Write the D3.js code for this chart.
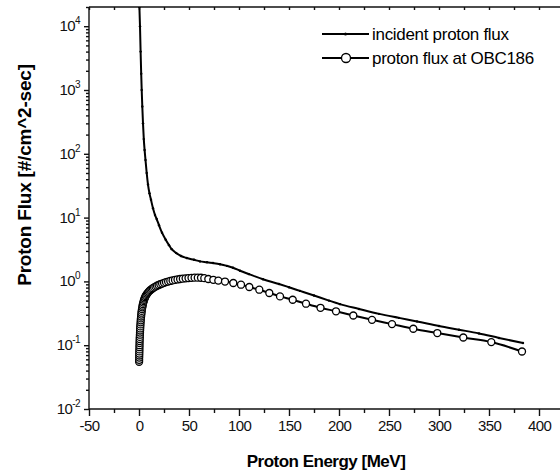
<!DOCTYPE html>
<html>
<head>
<meta charset="utf-8">
<script src="https://cdn.jsdelivr.net/npm/d3@7"></script>
<style>
  html, body { margin: 0; padding: 0; background: #fff; }
  svg { display: block; font-family: "Liberation Sans", Arial, sans-serif; }
</style>
</head>
<body>
<div id="chart"></div>
<script>
// incident proton flux (energy MeV, flux)
const incidentEnergy = [0.4, 1.0, 1.6, 2.2, 2.7, 3.3, 4.0, 4.8, 5.6, 6.5, 7.7, 9.0, 10.5, 12, 14, 16, 17.7, 20, 23, 26.7, 30, 32.7, 37, 42, 47.7, 55, 61, 68, 74, 81, 88, 94, 101, 110, 124, 140, 150, 161, 175, 190, 201, 220, 240, 260, 278, 300, 320, 340, 360, 384];
const incidentFlux = [20000, 10000, 4000, 1800, 1000, 550, 300, 170, 115, 80, 50, 33, 24, 19, 14, 11, 9.5, 7.6, 5.8, 4.5, 3.7, 3.2, 2.8, 2.5, 2.33, 2.18, 2.06, 2.0, 1.94, 1.86, 1.75, 1.64, 1.47, 1.3, 1.08, 0.91, 0.81, 0.71, 0.6, 0.5, 0.44, 0.37, 0.31, 0.268, 0.236, 0.2, 0.175, 0.153, 0.13, 0.108];

// proton flux at OBC186
const obcEnergy = [0.10, 0.15, 0.20, 0.25, 0.30, 0.35, 0.40, 0.45, 0.50, 0.55, 0.60, 0.70, 0.80, 0.90, 1.00, 1.10, 1.20, 1.30, 1.45, 1.60, 1.75, 1.90, 2.10, 2.30, 2.50, 2.70, 3.00, 3.30, 3.60, 3.90, 4.30, 4.70, 5.10, 5.60, 6.10, 6.70, 7.30, 8.00, 8.80, 9.60, 10.5, 11.5, 12.6, 13.8, 15.1, 16.5, 18.0, 19.6, 21.3, 23.1, 25.0, 27.0, 29.1, 31.3, 33.6, 36.0, 38.5, 41.1, 43.8, 46.6, 49.5, 52.5, 55.6, 58.8, 62.0, 65.3, 69.3, 74.3, 79.3, 86, 94.3, 102, 110.3, 120.3, 130.3, 141, 153.7, 167, 181.5, 197, 214.3, 233, 253, 274.3, 298.3, 324.3, 352.3, 383];
const obcFlux = [0.055, 0.059, 0.064, 0.069, 0.074, 0.080, 0.086, 0.093, 0.100, 0.108, 0.116, 0.125, 0.135, 0.146, 0.158, 0.170, 0.183, 0.197, 0.212, 0.228, 0.245, 0.263, 0.282, 0.302, 0.323, 0.345, 0.368, 0.392, 0.416, 0.44, 0.465, 0.49, 0.515, 0.54, 0.565, 0.59, 0.614, 0.638, 0.662, 0.686, 0.71, 0.734, 0.758, 0.782, 0.806, 0.83, 0.854, 0.878, 0.902, 0.926, 0.95, 0.973, 0.995, 1.016, 1.036, 1.055, 1.073, 1.09, 1.105, 1.118, 1.129, 1.138, 1.144, 1.146, 1.14, 1.125, 1.09, 1.06, 1.03, 0.995, 0.944, 0.887, 0.817, 0.741, 0.658, 0.582, 0.516, 0.447, 0.386, 0.34, 0.292, 0.25, 0.214, 0.181, 0.155, 0.132, 0.112, 0.0796];

const xTickValues = [-50, 0, 50, 100, 150, 200, 250, 300, 350, 400];
const yTickExponents = [-2, -1, 0, 1, 2, 3, 4];
const legendLabels = ["incident proton flux", "proton flux at OBC186"];

const width = 560, height = 475;
const plot = { left: 89, right: 559, top: 7, bottom: 409 };

const svg = d3.select("#chart")
    .append("svg")
    .attr("width", width)
    .attr("height", height);

const x = d3.scaleLinear().domain([-50, 420]).range([plot.left, plot.right]);
const y = d3.scaleLog().domain([0.01, 20000]).range([plot.bottom, plot.top]);

svg.append("defs").append("clipPath")
    .attr("id", "plot-clip")
    .append("rect")
    .attr("x", plot.left)
    .attr("y", plot.top)
    .attr("width", plot.right - plot.left)
    .attr("height", plot.bottom - plot.top);

const axisColor = "#111";

// bottom axis: majors every 50, minors every 25
const xMinor = d3.range(-50, 420, 25).filter(v => v % 50 !== 0);
const bottomAxis = svg.append("g").attr("transform", `translate(0,${plot.bottom})`);
bottomAxis.append("g")
    .call(d3.axisBottom(x).tickValues(xMinor).tickSize(4).tickFormat(""))
    .call(g => g.select(".domain").remove());
bottomAxis.append("g")
    .call(d3.axisBottom(x).tickValues(xTickValues).tickSize(7).tickPadding(4).tickSizeOuter(0)
        .tickFormat(d => String(d)))
    .call(g => g.select(".domain").attr("d", `M${plot.left},0H${plot.right + 1}`))
    .selectAll("text")
    .attr("fill", axisColor)
    .style("font-size", "15px")
    .style("letter-spacing", "-0.6px");
bottomAxis.selectAll("line, path").attr("stroke", axisColor).attr("stroke-width", 1.4);

// top axis: inward ticks every 25
const topAxis = svg.append("g").attr("transform", `translate(0,${plot.top})`);
topAxis.append("g")
    .call(d3.axisTop(x).tickValues(d3.range(-50, 420, 25)).tickSize(-3).tickFormat("").tickSizeOuter(0))
    .call(g => g.select(".domain").attr("d", `M${plot.left},0H${width}`));
topAxis.selectAll("line, path").attr("stroke", axisColor).attr("stroke-width", 1.4);

// left axis: log decades with minor ticks
const yMinor = [];
yTickExponents.forEach(e => {
    for (let k = 2; k <= 9; k++) {
        const v = k * Math.pow(10, e);
        if (v <= 20000) yMinor.push(v);
    }
});
const leftAxis = svg.append("g").attr("transform", `translate(${plot.left},0)`);
leftAxis.append("g")
    .call(d3.axisLeft(y).tickValues(yMinor).tickSize(3).tickFormat(""))
    .call(g => g.select(".domain").remove());
leftAxis.append("g")
    .call(d3.axisLeft(y).tickValues(yTickExponents.map(e => Math.pow(10, e))).tickSize(5).tickFormat("").tickSizeOuter(0))
    .call(g => g.select(".domain").attr("d", `M0,${plot.top}V${plot.bottom + 0.7}`));
leftAxis.selectAll("line, path").attr("stroke", axisColor).attr("stroke-width", 1.4);

const yLabels = leftAxis.append("g");
yTickExponents.forEach(e => {
    const t = yLabels.append("text")
        .attr("x", -9)
        .attr("y", y(Math.pow(10, e)) + 5)
        .attr("text-anchor", "end")
        .attr("fill", axisColor)
        .style("font-size", "15px")
        .style("letter-spacing", "-0.6px");
    t.append("tspan").text("10");
    t.append("tspan")
        .attr("dy", -7)
        .style("font-size", "10px")
        .text(e);
});

// axis titles
svg.append("text")
    .attr("x", 326)
    .attr("y", 467)
    .attr("text-anchor", "middle")
    .style("font-size", "17px")
    .style("font-weight", "bold")
    .style("letter-spacing", "-0.5px")
    .text("Proton Energy [MeV]");

svg.append("text")
    .attr("transform", "translate(31,175) rotate(-90)")
    .attr("text-anchor", "middle")
    .style("font-size", "19px")
    .style("font-weight", "bold")
    .style("letter-spacing", "-0.2px")
    .text("Proton Flux [#/cm^2-sec]");

// series
const plotArea = svg.append("g").attr("clip-path", "url(#plot-clip)");

const incident = incidentEnergy.map((e, i) => ({ e, f: incidentFlux[i] }));
const obc = obcEnergy.map((e, i) => ({ e, f: obcFlux[i] }));

const line = d3.line()
    .x(d => x(d.e))
    .y(d => y(d.f))
    .curve(d3.curveMonotoneX);

plotArea.append("path")
    .datum(incident)
    .attr("d", line)
    .attr("fill", "none")
    .attr("stroke", "#000")
    .attr("stroke-width", 2);

plotArea.selectAll(".inc-dot")
    .data(incident)
    .enter()
    .append("circle")
    .attr("class", "inc-dot")
    .attr("cx", d => x(d.e))
    .attr("cy", d => y(d.f))
    .attr("r", 1.2)
    .attr("fill", "#000");

plotArea.append("path")
    .datum(obc)
    .attr("d", line)
    .attr("fill", "none")
    .attr("stroke", "#000")
    .attr("stroke-width", 2);

plotArea.selectAll(".obc-dot")
    .data(obc)
    .enter()
    .append("circle")
    .attr("class", "obc-dot")
    .attr("cx", d => x(d.e))
    .attr("cy", d => y(d.f))
    .attr("r", 3.5)
    .attr("fill", "#fff")
    .attr("stroke", "#000")
    .attr("stroke-width", 1.3);

// legend
const legend = svg.append("g");
const legendRows = [34, 58];
legendRows.forEach((ly, i) => {
    legend.append("line")
        .attr("x1", 322).attr("x2", 369)
        .attr("y1", ly).attr("y2", ly)
        .attr("stroke", "#000")
        .attr("stroke-width", 2);
    if (i === 0) {
        legend.append("circle")
            .attr("cx", 345.5).attr("cy", ly).attr("r", 1.5)
            .attr("fill", "#000");
    } else {
        legend.append("circle")
            .attr("cx", 346).attr("cy", ly).attr("r", 4.5)
            .attr("fill", "#fff")
            .attr("stroke", "#000")
            .attr("stroke-width", 1.3);
    }
    legend.append("text")
        .attr("x", 372)
        .attr("y", ly + 6)
        .style("font-size", "17px")
        .style("letter-spacing", "-0.3px")
        .text(legendLabels[i]);
});
</script>
</body>
</html>
